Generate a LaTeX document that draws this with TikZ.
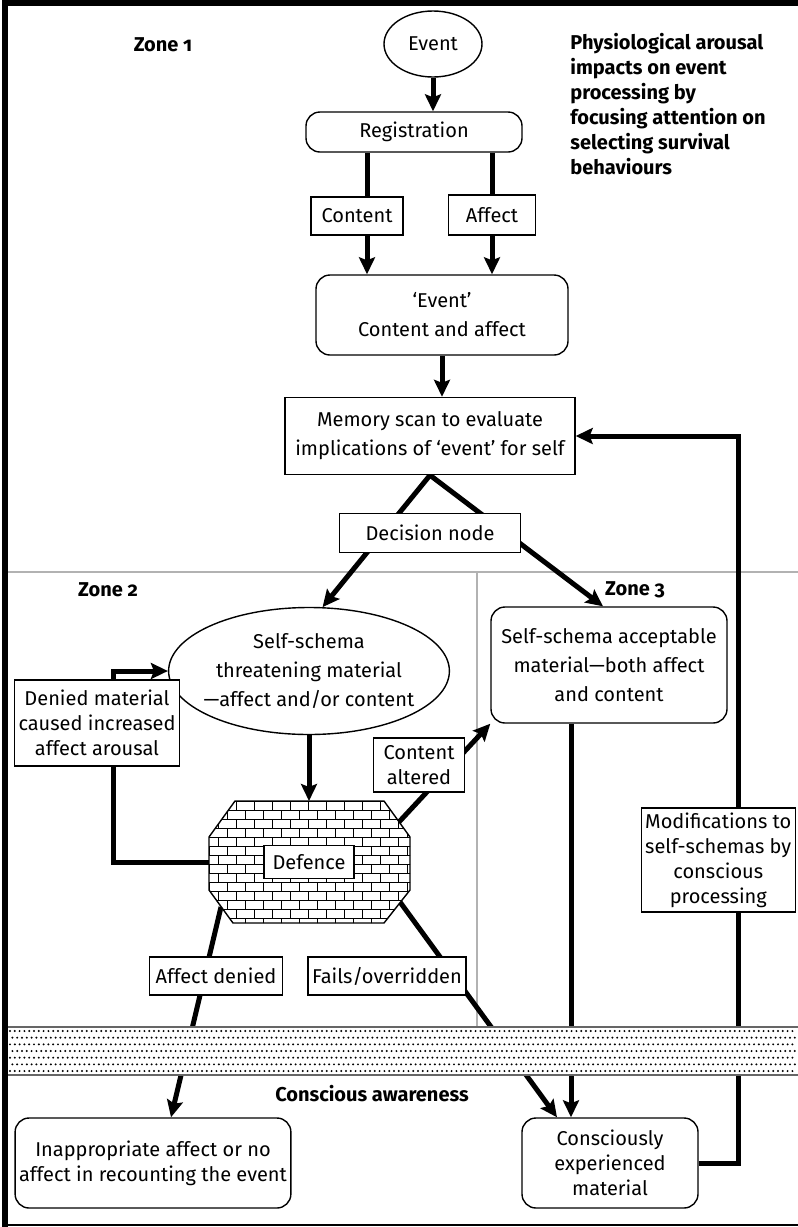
\documentclass[tikz,border=0pt]{standalone}
\usepackage{fontspec}
\setmainfont{Fira Sans}[Numbers=OldStyle]
\usetikzlibrary{arrows.meta,positioning,calc,backgrounds,shapes.geometric}
\tikzset{
  box/.style   ={draw,line width=0.7pt,fill=white,inner sep=2pt,align=center,font=\fontsize{10}{12.5}\selectfont},
  rbox/.style  ={box,rounded corners=7pt},
  oval/.style  ={box,ellipse,inner sep=0pt},
  wide/.style  ={font=\fontsize{10}{14.5}\selectfont},
  flow/.style  ={line width=2.5pt,-{Stealth[length=8.5pt,width=8pt,inset=1.5pt]}},
  link/.style  ={line width=2.5pt},
  zone/.style  ={font=\bfseries\fontsize{10}{12.5}\selectfont,inner sep=0pt},
  divide/.style={black!30,line width=1pt},
  brick/.style ={line width=0.4pt},
}

\begin{document}
\begin{tikzpicture}[x=0.5pt,y=-0.5pt]
  \useasboundingbox (0,0) rectangle (798,1227);
  % zone 1
  \node[oval,minimum width=49pt,minimum height=33pt] (event) at (433,44) {Event};
  \node[rbox,minimum width=108pt,minimum height=20pt] (reg) at (414,132) {Registration};
  \node[box,minimum width=46pt,minimum height=19pt] (content) at (357,216) {Content};
  \node[box,minimum width=43.5pt,minimum height=20pt] (affect) at (492,215) {Affect};
  \node[rbox,wide,minimum width=126pt,minimum height=40pt] (evca) at (442,315) {‘Event’\\Content and affect};
  \node[box,wide,minimum width=145pt,minimum height=38.5pt] (memory) at (430,436) {Memory scan to evaluate\\implications of ‘event’ for self};
  \coordinate (split) at (memory.south);
  \node[box,minimum width=90.5pt,minimum height=19.5pt] (decision) at (430,533) {Decision node};
  \node[zone] (zone1) at (163,45) {Zone 1};
  \node[zone,align=left,anchor=north west] (arousal) at (570,33) {Physiological arousal\\impacts on event\\processing by\\focusing attention on\\selecting survival\\behaviours};
  % zone 2 and 3
  \node[zone] (zone2) at (108,590) {Zone 2};
  \node[zone] (zone3) at (635,590) {Zone 3};
  \node[oval,wide,inner xsep=-3pt,minimum width=136pt,minimum height=63.5pt] (threat) at (309,671) {Self-schema\\threatening material\\---affect and/or content};
  \node[rbox,wide,minimum width=118pt,minimum height=58pt] (accept) at (609,665) {Self-schema acceptable\\material---both affect\\and content};
  \node[box,minimum width=81pt,minimum height=43pt] (denied) at (97,723) {Denied material\\caused increased\\affect arousal};
  \node[box,minimum width=45.5pt,minimum height=27pt] (altered) at (419,765) {Content\\altered};
  \node[box,minimum width=66.5pt,minimum height=19pt] (affden) at (216,976) {Affect denied};
  \node[box,minimum width=79pt,minimum height=19pt] (fails) at (387,976) {Fails/overridden};
  \node[box,minimum width=52pt,minimum height=52pt,anchor=east] (modif) at (796,860) {Modifications to\\self-schemas by\\conscious\\processing};
  % below the threshold
  \node[zone] (aware) at (372,1094) {Conscious awareness};
  \node[rbox,minimum width=131pt,minimum height=45pt] (inapp) at (153,1163) {Inappropriate affect or no\\affect in recounting the event};
  \node[rbox,minimum width=88pt,minimum height=45pt] (conscious) at (610,1163) {Consciously\\experienced\\material};

  % defence wall
  \coordinate (dN) at (309,801);
  \coordinate (dW) at (209,862);
  \coordinate (dNE) at (399,822);
  \coordinate (dSW) at (221,907);
  \coordinate (dSE) at (400,902);
  \begin{scope}
    \clip (235,801) -- (384,801) -- (410,837) -- (410,890) -- (384,923) -- (233,923) -- (209,890) -- (209,837) -- cycle;
    \fill[white] (200,795) rectangle (420,930);
    \foreach \r in {0,...,13} {
      \draw[brick] (200,{801+9*\r}) -- (420,{801+9*\r});
      \foreach \c in {0,...,12}
        \draw[brick] ({200+mod(\r,2)*9+18*\c},{801+9*\r}) -- ++(0,9);
    }
  \end{scope}
  \draw[line width=0.7pt] (235,801) -- (384,801) -- (410,837) -- (410,890) -- (384,923) -- (233,923) -- (209,890) -- (209,837) -- cycle;
  \node[box,minimum width=45pt,minimum height=16.5pt] (defence) at (309,862) {Defence};

  % connectors
  \begin{scope}[on background layer]
    \draw[divide] (8,572) -- (798,572);
    \draw[divide] (477,572) -- (477,1027);
    \coordinate (cl) at ([xshift=5pt]content.north);
    \coordinate (down) at ([xshift=-19pt]accept.south);
    \coordinate (back) at (738,860);
    \draw[flow] (event) -- (event |- reg.north);
    \draw[link] (reg.south -| cl) -- (cl);
    \draw[link] (reg.south -| affect) -- (affect);
    \draw[flow] (content.south -| cl) -- (cl |- evca.north);
    \draw[flow] (affect) -- (affect |- evca.north);
    \draw[flow] (evca) -- (evca |- memory.north);
    \draw[flow] (split) -- (threat.78);
    \draw[flow] (split) -- ([xshift=-3pt]accept.north);
    \draw[flow] (threat) -- (dN);
    \draw[flow] (dW) -- ++(-96,0) |- (threat.west);
    \draw[flow] (dNE) -- (accept.south west);
    \draw[flow] (dSW) -- ([xshift=9pt]inapp.north);
    \draw[flow] (dSE) -- ([xshift=-26.5pt]conscious.north);
    \draw[flow] (down) -- (down |- conscious.north);
    \draw[flow] (conscious) -| (back) |- (memory);
  \end{scope}

  % threshold band
  \fill[white] (8,1027) rectangle (798,1075);
  \foreach \r in {0,...,6}
    \foreach \c in {0,...,163}
      \fill ({10+4.8*\c+mod(\r,2)*2.4},{1031+6.67*\r}) circle (0.55pt);
  \draw[black!60,line width=1pt] (8,1027) -- (798,1027) (8,1075) -- (798,1075);

  % frame
  \draw[line width=2.75pt] (5,1227) -- (5,3) -- (798,3);
  \draw[line width=1pt] (5,1225) -- (798,1225);
\end{tikzpicture}
\end{document}
